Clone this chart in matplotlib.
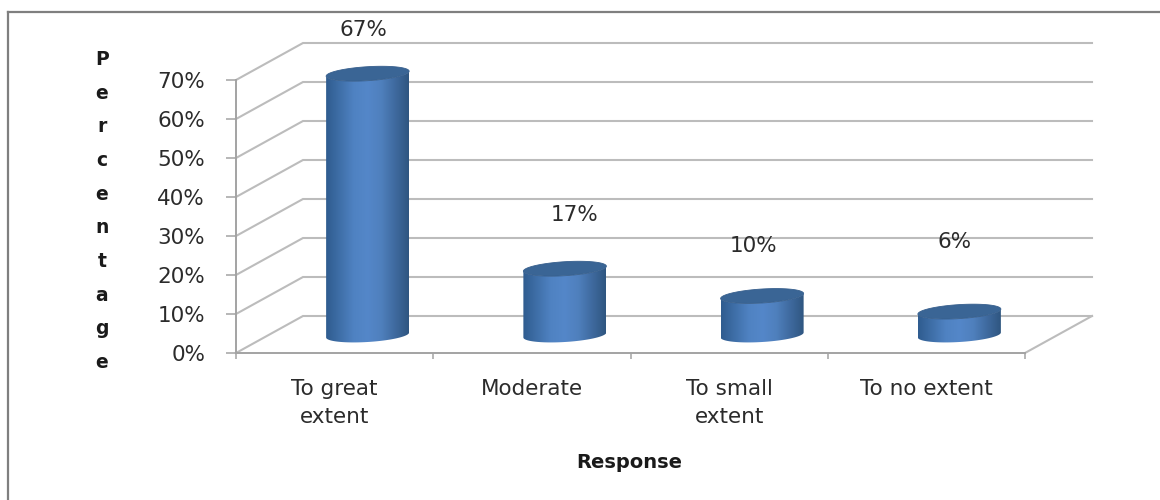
import numpy as np
import matplotlib
matplotlib.use("Agg")
import matplotlib.pyplot as plt
from matplotlib.colors import LinearSegmentedColormap
from matplotlib.lines import Line2D
from matplotlib.patches import PathPatch, Polygon
from matplotlib.path import Path

categories = ["To great\nextent", "Moderate", "To small\nextent", "To no extent"]
percentages = [67, 17, 10, 6]
y_ticks = [0, 10, 20, 30, 40, 50, 60, 70]
y_title = "Percentage"
x_title = "Response"

# Offsets of the value labels from the top of each cylinder, in pixels
label_offsets = [(-4, 44), (10, 54), (-9, 50), (-5, 70)]

W, H = 1160, 500
fig = plt.figure(figsize=(W / 100, H / 100), dpi=100, facecolor="white")
plt.rcParams["font.family"] = "DejaVu Sans"

# Front plane of the 3D box
left, right, bottom, top = 236, 1025, 353, 80
ax = fig.add_axes([left / W, 1 - bottom / H, (right - left) / W, (bottom - top) / H])
ax.patch.set_alpha(0)
ax.set_xlim(-0.5, 3.5)
ax.set_ylim(0, 70)

px_x = 4 / (right - left)        # data units per pixel, horizontal
px_y = 70 / (bottom - top)       # data units per pixel, vertical
depth_x, depth_y = 67 * px_x, 37 * px_y

grid_col = "#bcbcbc"
axis_col = "#a3a3a3"
text_col = "#2b2b2b"

# Back wall gridlines and the slanted side-wall lines
for v in y_ticks:
    ax.plot([-0.5, -0.5 + depth_x, 3.5 + depth_x], [v, v + depth_y, v + depth_y],
            color=grid_col, lw=1.5, clip_on=False, zorder=1, solid_joinstyle="miter")
ax.plot([3.5, 3.5 + depth_x], [0, depth_y], color=grid_col, lw=1.5, clip_on=False, zorder=1)

for name, sp in ax.spines.items():
    sp.set_visible(name in ("left", "bottom"))
    sp.set_color(axis_col)
    sp.set_linewidth(1.4)

ax.set_yticks(y_ticks)
ax.set_yticklabels([f"{v}%" for v in y_ticks])
ax.tick_params(axis="y", length=7.2, width=1.1, color=axis_col, pad=15,
               labelsize=15.5, labelcolor=text_col)
ax.set_xticks(np.arange(-0.5, 4, 1))
ax.set_xticklabels([])
ax.tick_params(axis="x", which="major", length=4.5, width=1.1, color=axis_col)
ax.set_xticks(range(len(categories)), minor=True)
ax.set_xticklabels(categories, minor=True, fontsize=15.5, color=text_col, linespacing=1.47)
ax.tick_params(axis="x", which="minor", length=0, pad=19)

cyl_cmap = LinearSegmentedColormap.from_list(
    "cyl", ["#2f5c8f", "#3f6fa8", "#4f82c2", "#5487c9", "#4f80bd", "#3f6a9f", "#2f5680"])
gradient = np.linspace(0, 1, 256).reshape(1, -1)

half_w, half_h, tilt = 41.5, 7.0, 0.06
theta = np.linspace(0, 2 * np.pi, 121)


def rim(cx, cy, angles):
    """Points on a slightly tilted cylinder rim, centred on (cx, cy) in data units."""
    ex = half_w * np.cos(angles)
    ey = half_h * np.sin(angles) + tilt * ex
    return np.column_stack([cx + ex * px_x, cy + ey * px_y])


base_y = 18 * px_y
for i, v in enumerate(percentages):
    cx = i + 33 * px_x
    lower = np.linspace(np.pi, 2 * np.pi, 60)
    body = np.vstack([rim(cx, base_y, lower), rim(cx, base_y + v, lower[::-1])])
    im = ax.imshow(gradient, cmap=cyl_cmap, aspect="auto", zorder=3,
                   extent=(cx - half_w * px_x, cx + half_w * px_x, base_y - 12 * px_y, base_y + v + 12 * px_y))
    outline = PathPatch(Path(np.vstack([body, body[0]])), transform=ax.transData,
                        facecolor="none", edgecolor="none", clip_on=False)
    ax.add_patch(outline)
    im.set_clip_on(True)
    im.set_clip_box(fig.bbox)
    im.set_clip_path(outline)
    ax.add_patch(Polygon(rim(cx, base_y + v, theta), closed=True, facecolor="#3a6595",
                         edgecolor="#375f8d", lw=0.6, zorder=4, clip_on=False))
    ox, oy = label_offsets[i]
    ax.annotate(f"{v}%", xy=(cx, base_y + v), xytext=(ox, oy), textcoords="offset pixels",
                ha="center", va="center", fontsize=15.5, color=text_col, zorder=5,
                annotation_clip=False)

ax.set_xlim(-0.5, 3.5)
ax.set_ylim(0, 70)

# Axis titles: the y title is stacked one letter per line
fig.text(102 / W, 1 - 211 / H, "\n".join(y_title), ha="center", va="center",
         fontsize=13.5, fontweight="bold", color="#1a1a1a", linespacing=1.98)
fig.text(629 / W, 1 - 462 / H, x_title, ha="center", va="center",
         fontsize=14, fontweight="bold", color="#1a1a1a")

# Chart frame, open to the right and bottom
frame = "#7f7f7f"
fig.add_artist(Line2D([8 / W, 8 / W], [0, 1 - 12 / H], color=frame, lw=1.6))
fig.add_artist(Line2D([8 / W, 1], [1 - 12 / H, 1 - 12 / H], color=frame, lw=1.6))

fig.savefig("out.png", dpi=100, facecolor="white")
